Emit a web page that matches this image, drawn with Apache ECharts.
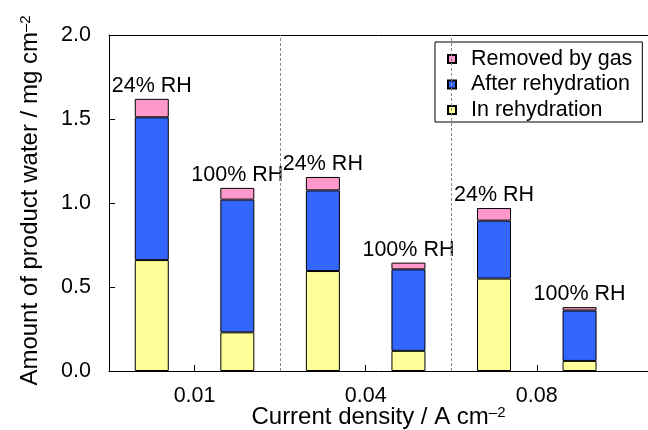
<!DOCTYPE html>
<html>
<head>
<meta charset="utf-8">
<script src="https://cdn.jsdelivr.net/npm/echarts@6/dist/echarts.min.js"></script>
<style>
  html, body { margin: 0; padding: 0; background: #fff; }
  #chart { width: 648px; height: 430px; }
</style>
</head>
<body>
<div id="chart"></div>
<script>
// current density groups (tick labels) and the RH label above each bar
const groups = ['0.01', '0.04', '0.08'];
const rhLabels = ['24% RH', '100% RH', '24% RH', '100% RH', '24% RH', '100% RH'];

// water amounts, mg cm-2
const inRehydration = [0.66, 0.23, 0.595, 0.12, 0.55, 0.06];
const afterRehydration = [0.85, 0.79, 0.48, 0.485, 0.345, 0.30];
const removedByGas = [0.11, 0.07, 0.08, 0.04, 0.075, 0.02];

const yTicks = [0, 0.5, 1.0, 1.5, 2.0];

const font = '"Liberation Sans", Arial, Helvetica, sans-serif';

// value first so that the stack runs on y; each bar sits mid-slot on x
function toPoints(arr) {
    return arr.map((v, i) => [v, i + 0.5]);
}

const chart = echarts.init(document.getElementById('chart'));

const barBase = {
    type: 'bar',
    stack: 'water',
    barWidth: 34,
    xAxisIndex: 0,
    encode: { x: 1, y: 0 }
};

const supStyle = { sup: { fontSize: 15, verticalAlign: 'top', padding: [0, 0, 10, 0] } };

const option = {
    backgroundColor: '#fff',
    animation: false,
    textStyle: { fontFamily: font },
    grid: { left: 109, top: 35, right: 0, bottom: 59, outerBoundsMode: 'none' },
    legend: {
        data: ['Removed by gas', 'After rehydration', 'In rehydration'],
        orient: 'vertical',
        left: 435,
        top: 42,
        padding: [6, 10, 1, 12],
        itemGap: 3.5,
        itemWidth: 8,
        itemHeight: 8,
        icon: 'rect',
        backgroundColor: '#fff',
        borderColor: '#000',
        borderWidth: 1,
        textStyle: { fontSize: 21.5, color: '#000', fontFamily: font, padding: [0, 0, 0, 10] }
    },
    xAxis: [
        {
            type: 'value',
            min: 0,
            max: 6.3,
            interval: 1,
            name: 'Current density / A cm{sup|–2}',
            nameLocation: 'middle',
            nameGap: 34,
            nameMoveOverlap: false,
            nameTextStyle: {
                fontSize: 24, color: '#000', fontFamily: font,
                rich: supStyle
            },
            axisLine: { show: true, lineStyle: { color: '#000', width: 1 } },
            axisTick: { show: true, inside: true, length: 6, customValues: [1, 3, 5], lineStyle: { color: '#000' } },
            axisLabel: {
                customValues: [1, 3, 5],
                formatter: v => groups[(v - 1) / 2],
                fontSize: 21.5, color: '#000', margin: 14, fontFamily: font
            },
            splitLine: { show: false }
        },
        {
            type: 'value',
            position: 'top',
            min: 0,
            max: 6.3,
            interval: 1,
            axisLine: { show: true, onZero: false, lineStyle: { color: '#000', width: 1 } },
            axisTick: { show: false },
            axisLabel: { show: false },
            splitLine: { show: false }
        }
    ],
    yAxis: {
        type: 'value',
        min: yTicks[0],
        max: yTicks[yTicks.length - 1],
        interval: 0.5,
        name: 'Amount of product water / mg cm{sup|–2}',
        nameLocation: 'middle',
        nameGap: 66,
        nameTextStyle: {
            fontSize: 24, color: '#000', fontFamily: font,
            padding: [0, 0, 0, 5],
            rich: supStyle
        },
        axisLine: { show: true, lineStyle: { color: '#000', width: 1 } },
        axisTick: { show: true, inside: true, length: 6, lineStyle: { color: '#000' } },
        axisLabel: {
            formatter: v => v.toFixed(1),
            fontSize: 21.5, color: '#000', margin: 18, fontFamily: font
        },
        splitLine: { show: false }
    },
    series: [
        Object.assign({}, barBase, {
            name: 'In rehydration',
            data: toPoints(inRehydration),
            itemStyle: { color: '#FFFF99', borderColor: '#000', borderWidth: 1 },
            markLine: {
                silent: true,
                symbol: 'none',
                label: { show: false },
                lineStyle: { color: '#888', type: [3, 2], width: 1 },
                data: [{ xAxis: 2 }, { xAxis: 4 }]
            }
        }),
        Object.assign({}, barBase, {
            name: 'After rehydration',
            data: toPoints(afterRehydration),
            itemStyle: { color: '#3366FF', borderColor: '#000', borderWidth: 1 }
        }),
        Object.assign({}, barBase, {
            name: 'Removed by gas',
            data: toPoints(removedByGas),
            itemStyle: { color: '#FF99CC', borderColor: '#000', borderWidth: 1 },
            label: {
                show: true,
                position: 'top',
                distance: 2,
                formatter: p => rhLabels[p.dataIndex],
                fontSize: 21.5,
                color: '#000',
                fontFamily: font
            }
        })
    ]
};

option && chart.setOption(option);
</script>
</body>
</html>
